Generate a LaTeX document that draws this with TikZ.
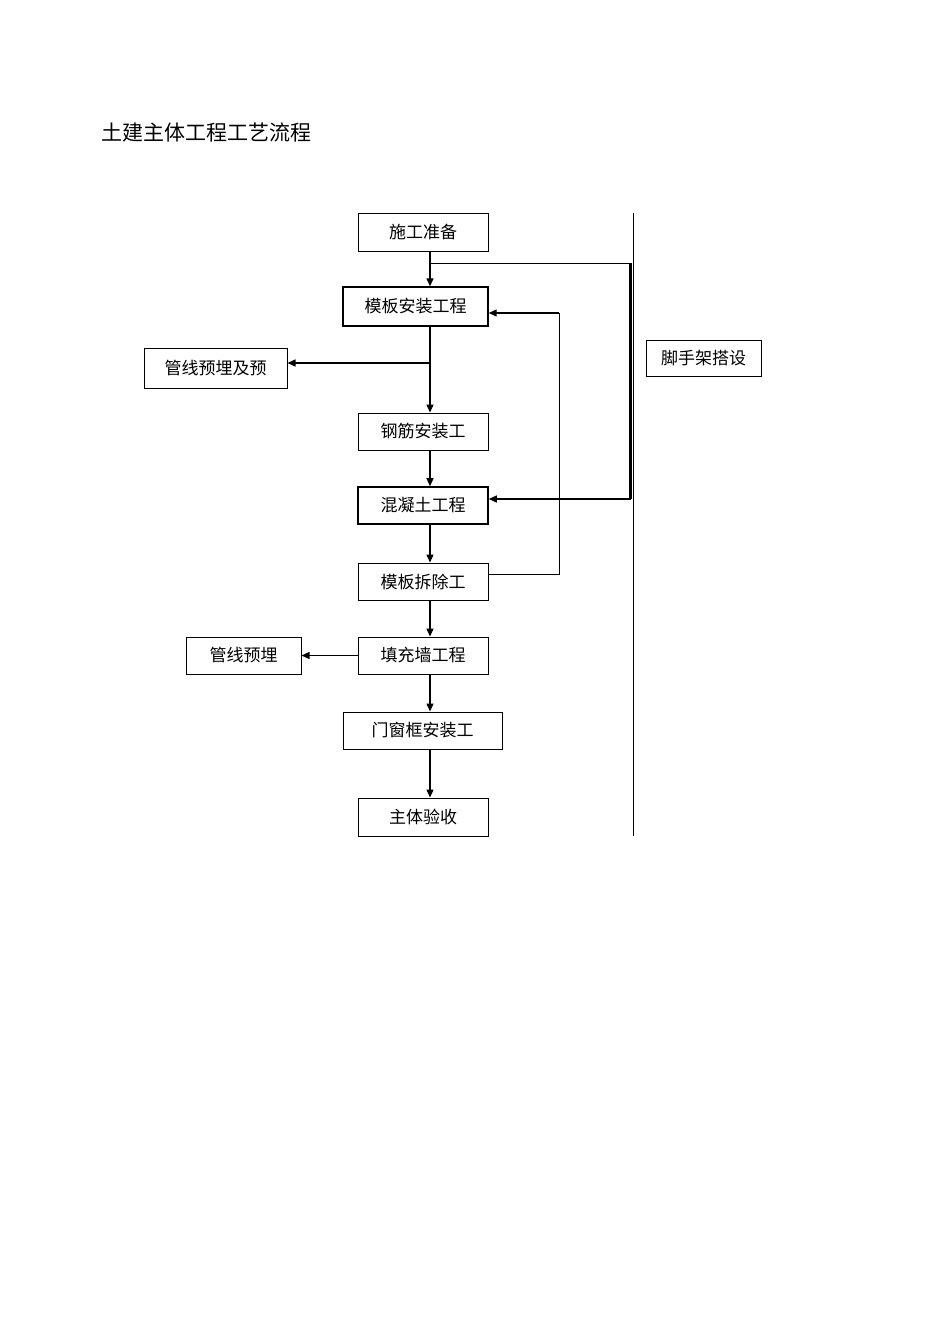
\documentclass[tikz,border=0pt]{standalone}
\usepackage{fontspec}
\newfontfamily\cjk{Noto Sans CJK SC}[Scale=1]
\usetikzlibrary{arrows.meta}
\begin{document}
\begin{tikzpicture}[x=1pt,y=-1pt,
  box/.style={draw,line width=1pt,inner sep=0pt,font=\cjk\fontsize{17}{17}\selectfont},
  arr/.style={line width=1.3pt,-{Triangle[length=8pt,width=7pt]}},
  ln/.style={line width=1pt}]
\useasboundingbox (0,0) rectangle (950,1344);
\node[anchor=west,font=\cjk\fontsize{21}{21}\selectfont] (title) at (98,133) {土建主体工程工艺流程};
\node[box,minimum width=130pt,minimum height=38pt] (a) at (423,232) {施工准备};
\node[box,line width=1.4pt,minimum width=145pt,minimum height=39pt] (b) at (415.5,306.5) {模板安装工程};
\node[box,minimum width=143pt,minimum height=40pt] (c) at (215.5,368) {管线预埋及预};
\node[box,minimum width=130pt,minimum height=37pt] (d) at (423,431.5) {钢筋安装工};
\node[box,line width=1.6pt,minimum width=130pt,minimum height=37pt] (e) at (423,505.5) {混凝土工程};
\node[box,minimum width=130pt,minimum height=37pt] (f) at (423,581.5) {模板拆除工};
\node[box,minimum width=115pt,minimum height=37pt] (g) at (243.5,655.5) {管线预埋};
\node[box,minimum width=130pt,minimum height=37pt] (h) at (423,655.5) {填充墙工程};
\node[box,minimum width=159pt,minimum height=37pt] (i) at (422.5,730.5) {门窗框安装工};
\node[box,minimum width=130pt,minimum height=38pt] (j) at (423,817) {主体验收};
\node[box,minimum width=115pt,minimum height=36pt] (k) at (703.5,358) {脚手架搭设};
\coordinate (vt) at (633,213); \coordinate (vb) at (633,836);
\draw[line width=1pt] (vt) -- (vb);
\coordinate (s1) at (430,263); \coordinate (s2) at (630.5,263); \coordinate (s3) at (630.5,499);
\draw[arr] (a.south -| s1) -- (b.north -| s1);
\draw[ln] (s1) -- (s2);
\draw[line width=2.5pt] (s2) -- (s3);
\draw[arr] (s3) -- (e.east |- s3);
\coordinate (m) at (430,363);
\draw[arr] (b.south -| m) -- (d.north -| m);
\draw[arr] (m) -- (c.east |- m);
\draw[arr] (d.south -| m) -- (e.north -| m);
\draw[arr] (e.south -| m) -- (f.north -| m);
\draw[arr] (f.south -| m) -- (h.north -| m);
\draw[arr] (h.south -| m) -- (i.north -| m);
\draw[arr] (i.south -| m) -- (j.north -| m);
\coordinate (r1) at (559,574); \coordinate (r2) at (559,313);
\draw[ln] (f.east |- r1) -- (r1) -- (r2);
\draw[arr] (r2) -- (b.east |- r2);
\draw[arr] (h.west) -- (g.east);
\end{tikzpicture}
\end{document}
